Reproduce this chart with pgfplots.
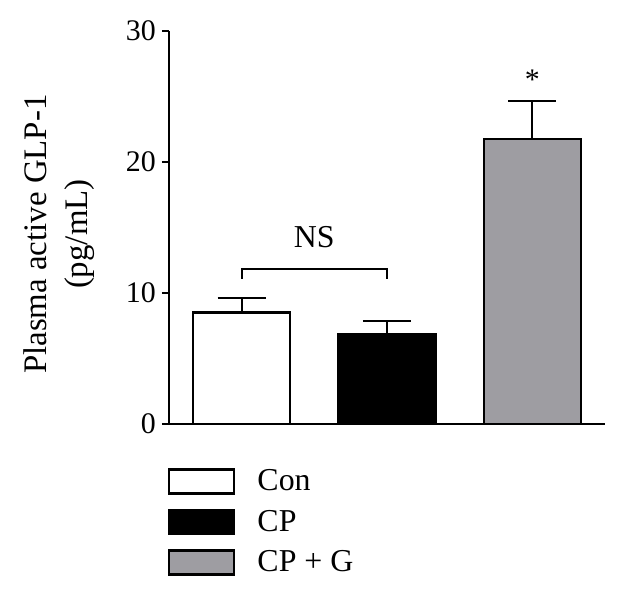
\documentclass[border=0pt]{standalone}
\usepackage{fontspec}
\setmainfont{Liberation Serif}
\usepackage{pgfplots}
\pgfplotsset{compat=1.18}
\definecolor{barGray}{RGB}{158,157,162}
\begin{document}
\begin{tikzpicture}
\useasboundingbox (-169bp,-172bp) rectangle (456bp,424bp);
\begin{axis}[
  at={(0,0)}, anchor=south west,
  scale only axis, width=436bp, height=393bp,
  xmin=-0.5, xmax=2.5, ymin=0, ymax=30,
  axis x line*=bottom, axis y line*=left,
  axis line style={line width=2bp, black},
  xtick=\empty,
  ytick={0,10,20,30},
  tick align=outside, major tick length=7bp,
  tick style={line width=2bp, black},
  /pgf/number format/assume math mode=true,
  yticklabel style={font=\fontsize{30}{34}\selectfont, inner sep=0pt, anchor=east, xshift=-6bp},
  every axis y label/.style={at={(axis description cs:-0.252,0.483)}, rotate=90, anchor=center,
    align=center, font=\fontsize{33}{41}\selectfont},
  ylabel={Plasma active GLP-1\\(pg/mL)},
  legend cell align=left,
  legend style={at={(rel axis cs:0,0)}, anchor=north west, yshift=-44bp, xshift=-1bp,
    draw=none, fill=none, inner sep=0pt, outer sep=0pt, row sep=14bp, column sep=22bp,
    font=\fontsize{32}{36}\selectfont, nodes={inner sep=0pt}},
]
% Con
\addplot[ybar, bar width=0.667, bar shift=0pt, fill=white, draw=black, line width=2.5bp,
  legend image code/.code={\draw[fill=white, draw=black, line width=2.5bp] (0bp,-12.5bp) rectangle (65bp,11.5bp);},
  error bars/.cd, y dir=plus, y explicit,
  error bar style={line width=2bp, black},
  error mark options={rotate=90, line width=2bp, mark size=24bp, black}]
  coordinates {(0,8.5) +- (0,1.1)};
% CP
\addplot[ybar, bar width=0.667, bar shift=0pt, fill=black, draw=black, line width=2.5bp,
  legend image code/.code={\draw[fill=black, draw=black, line width=2.5bp] (0bp,-12.5bp) rectangle (65bp,11.5bp);},
  error bars/.cd, y dir=plus, y explicit,
  error bar style={line width=2bp, black},
  error mark options={rotate=90, line width=2bp, mark size=24bp, black}]
  coordinates {(1,6.85) +- (0,1.05)};
% CP + G
\addplot[ybar, bar width=0.667, bar shift=0pt, fill=barGray, draw=black, line width=2.5bp,
  legend image code/.code={\draw[fill=barGray, draw=black, line width=2.5bp] (0bp,-12.5bp) rectangle (65bp,11.5bp);},
  error bars/.cd, y dir=plus, y explicit,
  error bar style={line width=2bp, black},
  error mark options={rotate=90, line width=2bp, mark size=24bp, black}]
  coordinates {(2,21.75) +- (0,2.9)};
% NS bracket
\addplot[black, line width=2bp, forget plot] coordinates {(0,11.07) (0,11.8) (1,11.8) (1,11.07)};
\node[font=\fontsize{32}{36}\selectfont] at (axis cs:0.5,14.3) {NS};
\node[font=\fontsize{30}{34}\selectfont] at (axis cs:2,26.3) {*};
\legend{Con, CP, CP + G}
\end{axis}
\end{tikzpicture}
\end{document}
